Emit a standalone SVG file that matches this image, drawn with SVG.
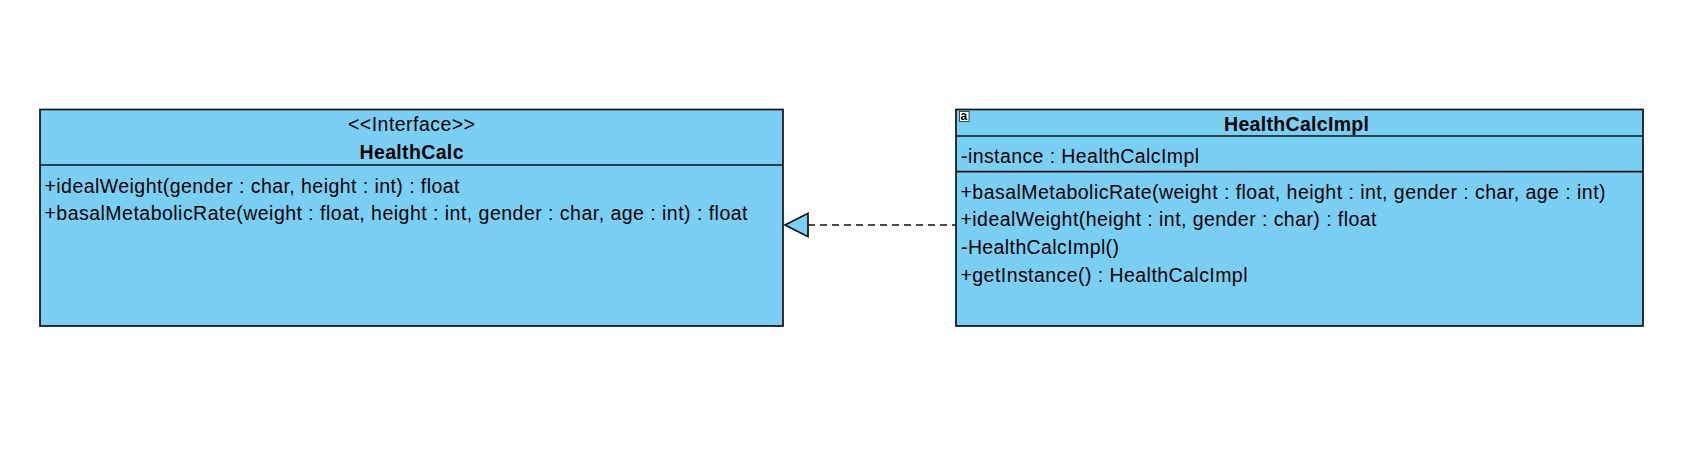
<svg xmlns="http://www.w3.org/2000/svg" width="1706" height="469" viewBox="0 0 1706 469">
<style>
.box{fill:#7ACFF5;stroke:#111;stroke-width:1.7}
.div{stroke:#111;stroke-width:1.7}
.t{font-family:"Liberation Sans",Arial,sans-serif;font-size:19.5px;fill:#000}
.b{font-weight:bold}
</style>
<rect width="1706" height="469" fill="#fff"/>
<g id="connectors">
<line x1="808" y1="225" x2="956" y2="225" stroke="#111" stroke-width="1.7" stroke-dasharray="7,5"/>
<polygon points="785,225 808,213.3 808,236.7" fill="#7ACFF5" stroke="#111" stroke-width="1.7"/>
</g>
<g id="HealthCalc">
<rect class="box" x="40" y="109.5" width="743" height="216.5"/>
<line class="div" x1="40" y1="165" x2="783" y2="165"/>
<text class="t" x="411.5" y="130.7" text-anchor="middle" textLength="127" lengthAdjust="spacing">&lt;&lt;Interface&gt;&gt;</text>
<text class="t b" x="411.5" y="159.3" text-anchor="middle" textLength="104" lengthAdjust="spacing">HealthCalc</text>
<text class="t" x="44.5" y="192.7" textLength="415" lengthAdjust="spacing">+idealWeight(gender : char, height : int) : float</text>
<text class="t" x="44.5" y="219.5" textLength="703" lengthAdjust="spacing">+basalMetabolicRate(weight : float, height : int, gender : char, age : int) : float</text>
</g>
<g id="HealthCalcImpl">
<rect class="box" x="956" y="109.5" width="687" height="216.5"/>
<line class="div" x1="956" y1="136" x2="1643" y2="136"/>
<line class="div" x1="956" y1="171.7" x2="1643" y2="171.7"/>
<rect x="959.5" y="111.5" width="9.5" height="10" fill="#fff" stroke="#222" stroke-width="0.8"/>
<text x="960.6" y="120.4" font-family="Liberation Sans,Arial,sans-serif" font-size="12" font-weight="bold" fill="#000">a</text>
<text class="t b" x="1296.5" y="130.7" text-anchor="middle" textLength="145" lengthAdjust="spacing">HealthCalcImpl</text>
<text class="t" x="961" y="162.7" textLength="238" lengthAdjust="spacing">-instance : HealthCalcImpl</text>
<text class="t" x="960.5" y="198.5" textLength="645" lengthAdjust="spacing">+basalMetabolicRate(weight : float, height : int, gender : char, age : int)</text>
<text class="t" x="960.5" y="226" textLength="416" lengthAdjust="spacing">+idealWeight(height : int, gender : char) : float</text>
<text class="t" x="961" y="253.8" textLength="158" lengthAdjust="spacing">-HealthCalcImpl()</text>
<text class="t" x="960.5" y="281.5" textLength="287" lengthAdjust="spacing">+getInstance() : HealthCalcImpl</text>
</g>
</svg>
